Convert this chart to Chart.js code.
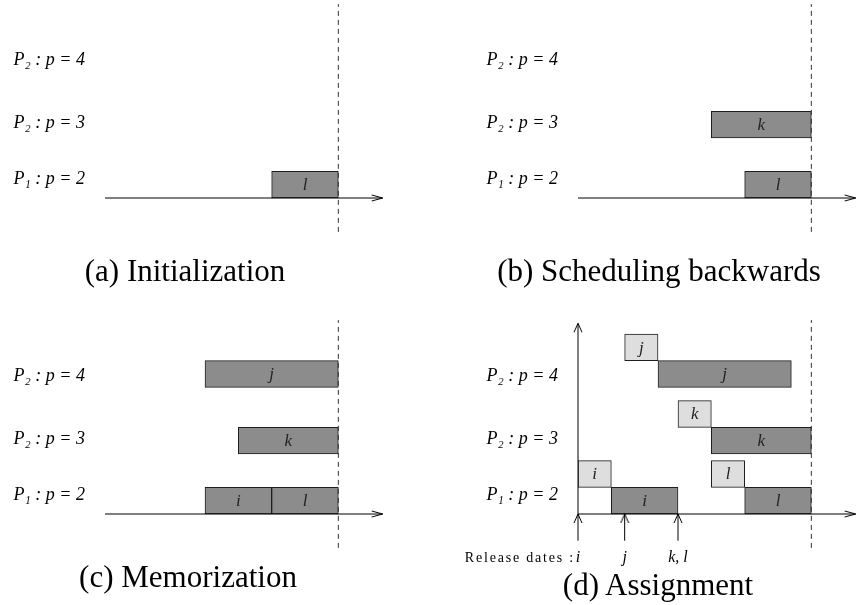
<!DOCTYPE html>
<html>
<head>
<meta charset="utf-8">
<script src="https://cdn.jsdelivr.net/npm/chart.js@4.4.1/dist/chart.umd.min.js"></script>
<style>
    html, body { margin: 0; padding: 0; background: #fff; overflow: hidden; }
    #page { position: relative; width: 856px; height: 605px; overflow: hidden; }
    #page canvas { position: absolute; }
    .caption {
        position: absolute;
        font-family: "Liberation Serif", serif;
        font-size: 31px;
        line-height: 31px;
        color: #000;
        white-space: nowrap;
        transform: translateX(-50%);
    }
</style>
</head>
<body>
<div id="page">
    <canvas id="panel-a" width="448" height="300"></canvas>
    <canvas id="panel-b" width="448" height="300"></canvas>
    <canvas id="panel-c" width="448" height="300"></canvas>
    <canvas id="panel-d" width="448" height="300"></canvas>
    <div class="caption" style="left:185px; top:255px">(a) Initialization</div>
    <div class="caption" style="left:659px; top:255px">(b) Scheduling backwards</div>
    <div class="caption" style="left:188px; top:561px">(c) Memorization</div>
    <div class="caption" style="left:658px; top:569px">(d) Assignment</div>
</div>
<script>
// --- Data ---
const deadline = 7;
const axisEnd = 8.33;
const rowLabels = ['P\u2081 : p = 2', 'P\u2082 : p = 3', 'P\u2082 : p = 4'];
const labelLevels = [0.7, 2.8, 5.15];
const rowLevels = [0.5, 2.75, 5.25];     // centre of each machine row
const releaseDates = [0, 1.4, 3];
const releaseLabels = ['i', 'j', 'k, l'];

// (a) initialization
const initJobs = ['l'];
const initStart = [5];
const initEnd = [7];
const initRow = [0];

// (b) scheduling backwards
const backJobs = ['l', 'k'];
const backStart = [5, 4];
const backEnd = [7, 7];
const backRow = [0, 1];

// (c) memorization
const memoJobs = ['i', 'l', 'k', 'j'];
const memoStart = [3, 5, 4, 3];
const memoEnd = [5, 7, 7, 7];
const memoRow = [0, 0, 1, 2];

// (d) assignment: earliest slot (light) and final slot (dark)
const earlyJobs = ['i', 'j', 'k', 'l'];
const earlyStart = [0, 1.4, 3, 4];
const earlyEnd = [1, 2.4, 4, 5];
const earlyRow = [0, 2, 1, 0];
const assignJobs = ['i', 'j', 'k', 'l'];
const assignStart = [1, 2.4, 4, 5];
const assignEnd = [3, 6.4, 7, 7];
const assignRow = [0, 2, 1, 0];

// --- Geometry ---
const UX = 100 / 3, UY = 80 / 3;
const XMIN = 0, XMAX = 8.6, YMIN = -1.3, YMAX = 7.3;
const W = 448, H = 300, AXIS_W = 105, PAD_L = 20;
const ORIGIN_Y = 229;
const PAD_T = ORIGIN_Y - YMAX * UY;
const PAD_R = W - PAD_L - AXIS_W - (XMAX - XMIN) * UX;
const XAXIS_H = H - PAD_T - (YMAX - YMIN) * UY;

const DARK = '#8c8c8c';
const LIGHT = '#dedede';
const EDGE = '#1e1e1e';
const SERIF = '"Liberation Serif", "DejaVu Serif", serif';

// open arrow head pointing right, tip in the middle of the image
function arrowHead(len, half) {
    const c = document.createElement('canvas');
    c.width = len * 2 + 2;
    c.height = half * 2 + 2;
    const g = c.getContext('2d');
    const cx = c.width / 2, cy = c.height / 2;
    g.strokeStyle = '#000';
    g.lineWidth = 1;
    g.beginPath();
    g.moveTo(cx - len, cy - half);
    g.lineTo(cx, cy);
    g.lineTo(cx - len, cy + half);
    g.stroke();
    return c;
}
const arrowRight = arrowHead(11, 3);
const arrowUp = arrowHead(9, 4);

function barSet(jobs, start, end, row, lift, color) {
    return {
        type: 'bar',
        indexAxis: 'y',
        jobs: jobs,
        data: jobs.map((j, n) => ({ x: [start[n], end[n]], y: rowLevels[row[n]] + lift })),
        backgroundColor: color,
        borderColor: EDGE,
        borderWidth: 1,
        borderSkipped: false,
        barThickness: UY,
        grouped: false,
        order: 2
    };
}

function lineSet(points, extra) {
    return Object.assign({
        type: 'line',
        data: points,
        borderColor: '#000',
        borderWidth: 1,
        pointRadius: points.map((p, n) => n === points.length - 1 ? 5 : 0),
        pointStyle: arrowRight,
        fill: false,
        clip: false,
        order: 1
    }, extra);
}

const jobLetters = {
    id: 'jobLetters',
    afterDatasetsDraw(chart) {
        const ctx = chart.ctx;
        ctx.save();
        ctx.font = 'italic 17px ' + SERIF;
        ctx.textAlign = 'center';
        ctx.textBaseline = 'middle';
        ctx.fillStyle = '#222';
        chart.data.datasets.forEach((ds, i) => {
            if (!ds.jobs) return;
            chart.getDatasetMeta(i).data.forEach((bar, n) => {
                const c = bar.getCenterPoint();
                ctx.fillText(ds.jobs[n], c.x, c.y + 1);
            });
        });
        if (chart.options.plugins.jobLetters.releases) {
            const x0 = chart.scales.x.getPixelForValue(releaseDates[0]);
            ctx.font = '14px ' + SERIF;
            ctx.letterSpacing = '1.8px';
            ctx.textAlign = 'right';
            ctx.fillStyle = '#000';
            ctx.fillText('Release dates :', x0 - 3, chart.chartArea.bottom + 10);
        }
        ctx.restore();
    }
};

function makePanel(id, ox, oy, datasets, withReleases) {
    const canvas = document.getElementById(id);
    canvas.style.left = (ox - AXIS_W - PAD_L) + 'px';
    canvas.style.top = (oy - ORIGIN_Y) + 'px';

    return new Chart(canvas.getContext('2d'), {
        type: 'bar',
        data: { datasets: datasets },
        plugins: [jobLetters],
        options: {
            responsive: false,
            animation: false,
            devicePixelRatio: 1,
            events: [],
            layout: { padding: { top: PAD_T, right: PAD_R, left: PAD_L, bottom: 0 } },
            plugins: {
                legend: { display: false },
                tooltip: { enabled: false },
                jobLetters: { releases: withReleases }
            },
            scales: {
                x: {
                    type: 'linear',
                    min: XMIN,
                    max: XMAX,
                    offset: false,
                    grid: { display: false, drawTicks: false, offset: false },
                    border: { display: false },
                    afterBuildTicks: ax => { ax.ticks = withReleases ? releaseDates.map(v => ({ value: v })) : []; },
                    afterFit: ax => { ax.height = XAXIS_H; },
                    ticks: {
                        display: withReleases,
                        padding: 0,
                        maxRotation: 0,
                        autoSkip: false,
                        color: '#000',
                        font: { family: SERIF, style: 'italic', size: 16 },
                        callback: (v, i) => releaseLabels[i]
                    }
                },
                y: {
                    type: 'linear',
                    min: YMIN,
                    max: YMAX,
                    offset: false,
                    grid: { display: false, drawTicks: false, offset: false },
                    border: { display: false },
                    afterBuildTicks: ax => { ax.ticks = labelLevels.map(v => ({ value: v })); },
                    afterFit: ax => { ax.width = AXIS_W; },
                    ticks: {
                        padding: 20,
                        autoSkip: false,
                        color: '#000',
                        font: { family: SERIF, style: 'italic', size: 18 },
                        callback: (v, i) => rowLabels[i]
                    }
                }
            }
        }
    });
}

function commonLines() {
    return [
        lineSet([{ x: 0, y: 0 }, { x: axisEnd, y: 0 }]),
        lineSet([{ x: deadline, y: -1.27 }, { x: deadline, y: 7.27 }], {
            borderColor: '#333',
            borderDash: [5, 4],
            pointRadius: 0
        })
    ];
}

makePanel('panel-a', 105, 198, [
    ...commonLines(),
    barSet(initJobs, initStart, initEnd, initRow, 0, DARK)
], false);

makePanel('panel-b', 578, 198, [
    ...commonLines(),
    barSet(backJobs, backStart, backEnd, backRow, 0, DARK)
], false);

makePanel('panel-c', 105, 514, [
    ...commonLines(),
    barSet(memoJobs, memoStart, memoEnd, memoRow, 0, DARK)
], false);

makePanel('panel-d', 578, 514, [
    ...commonLines(),
    lineSet([{ x: 0, y: 0 }, { x: 0, y: 7.15 }], { pointStyle: arrowUp, pointRotation: -90 }),
    ...releaseDates.map(r => lineSet([{ x: r, y: -1 }, { x: r, y: 0 }], { pointStyle: arrowUp, pointRotation: -90 })),
    barSet(earlyJobs, earlyStart, earlyEnd, earlyRow, 1, LIGHT),
    barSet(assignJobs, assignStart, assignEnd, assignRow, 0, DARK)
], true);
</script>
</body>
</html>
